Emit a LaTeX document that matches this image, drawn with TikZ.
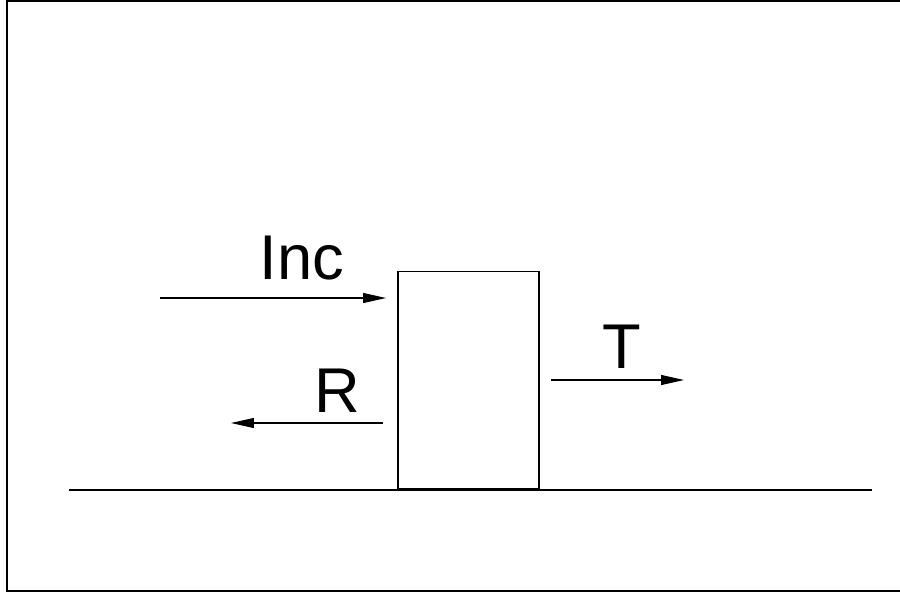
\documentclass[tikz,border=0pt]{standalone}
\usepackage{fontspec}
\setmainfont{Liberation Sans}
\usetikzlibrary{arrows.meta, positioning}
\tikzset{
  every picture/.style={line width=0.6pt},
  slab/.style={draw, minimum width=2.82cm, minimum height=4.36cm, inner sep=0pt},
  wave/.style={-{Triangle[length=0.46cm, width=0.2cm]}},
  label/.style={font=\fontsize{36}{40}\selectfont, anchor=base, inner sep=0pt},
}

\begin{document}
\begin{tikzpicture}[x=0.02cm, y=-0.02cm]
  \useasboundingbox (0,0) rectangle (900,593);
  \draw (905,1) -- (7,1) -- (7,591) -- (905,591);
  \node[slab] (block) at (468.5,380) {};
  \coordinate (gl) at (69,490);
  \coordinate (gr) at (872,490);
  \draw (gl) -- (gr);
  \coordinate (inc0) at (160,298);
  \coordinate (inc1) at (386,298);
  \coordinate (r0) at (383,423);
  \coordinate (r1) at (231,423);
  \coordinate (t0) at (551,380);
  \coordinate (t1) at (684,380);
  \draw[wave] (inc0) -- (inc1);
  \draw[wave] (r0) -- (r1);
  \draw[wave] (t0) -- (t1);
  \node[label] (inclabel) at (302,279) {Inc};
  \node[label] (rlabel) at (337,412) {R};
  \node[label] (tlabel) at (622,368) {T};
\end{tikzpicture}
\end{document}
